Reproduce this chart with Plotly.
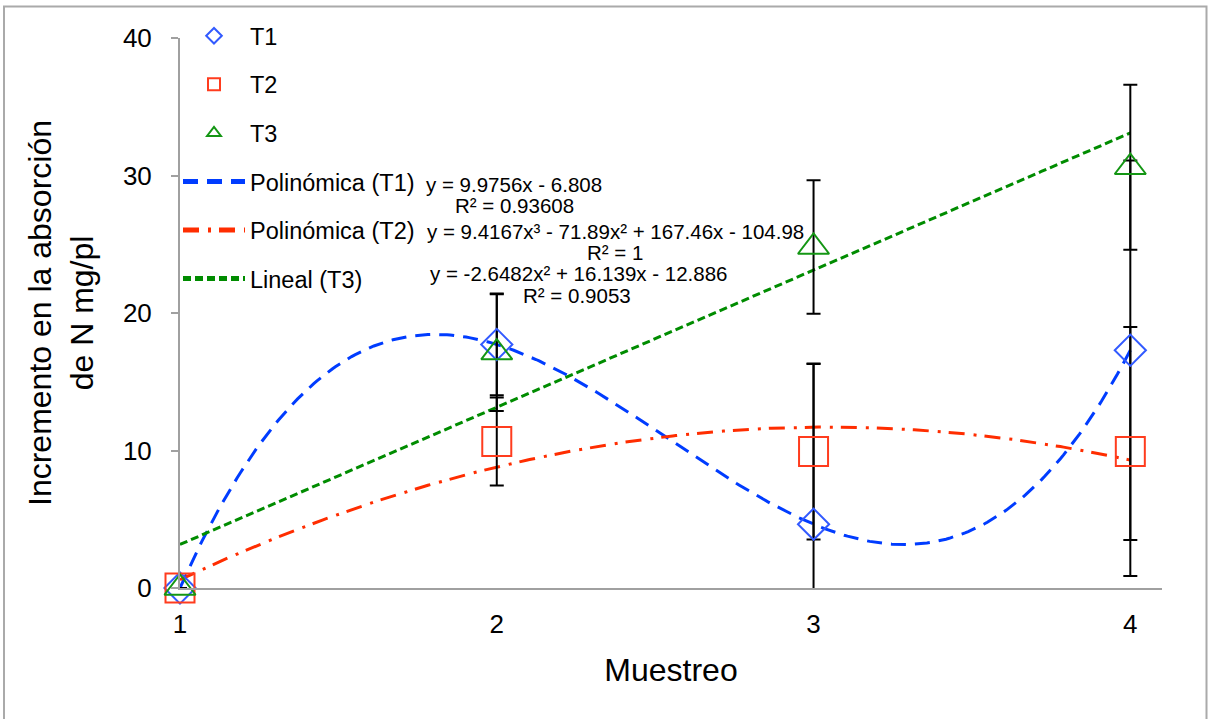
import numpy as np
import plotly.graph_objects as go

# ---------------- data ----------------
muestreo = [1, 2, 3, 4]
x_ticks = [1, 2, 3, 4]
y_ticks = [0, 10, 20, 30, 40]

t1 = [0, 17.71, 4.64, 17.29]
t2 = [0, 10.66, 9.93, 9.93]
t3 = [0, 17.12, 24.8, 30.6]

t1_err = [0, 3.7, 11.65, 13.8]
t2_err = [0, 3.2, 6.4, 9.05]
t3_err = [0, 4.25, 4.85, 6.0]

# trend-line coefficients as printed on the chart (highest power first)
coef_pol_t1 = [9.4167, -71.89, 167.46, -104.98]
coef_pol_t2 = [-2.6482, 16.139, -12.886]
coef_lin_t3 = [9.9756, -6.808]

eq_lines = [
    "y = 9.9756x - 6.808",
    "R² = 0.93608",
    "y = 9.4167x³ - 71.89x² + 167.46x - 104.98",
    "R² = 1",
    "y = -2.6482x² + 16.139x - 12.886",
    "R² = 0.9053",
]

# ---------------- styling ----------------
FONT = "Liberation Sans, Arial, Helvetica, sans-serif"
BLUE_L, RED_L, GREEN_L = "rgb(0,60,255)", "rgb(255,45,0)", "rgb(0,140,0)"
BLUE_M, RED_M, GREEN_M = "rgb(50,90,255)", "rgb(255,60,30)", "rgb(20,150,20)"
AXIS = "rgb(160,160,160)"

W, H = 1208, 719
L, R, T, B = 180, 46, 38, 131
PW, PH = W - L - R, H - T - B


def px2paper(px, py):
    return (px - L) / PW, (H - B - py) / PH


fig = go.Figure()

xs = np.linspace(min(muestreo), max(muestreo), 300)

# trend lines
fig.add_trace(go.Scatter(
    x=xs, y=np.polyval(coef_pol_t1, xs), mode="lines", name="Polinómica (T1)",
    line=dict(color=BLUE_L, width=3, dash="15px,9px"), legendgroup="g4", legendrank=4,
    hoverinfo="skip"))
fig.add_trace(go.Scatter(
    x=xs, y=np.polyval(coef_pol_t2, xs), mode="lines", name="Polinómica (T2)",
    line=dict(color=RED_L, width=3, dash="16px,9px,3px,8px"), legendgroup="g5", legendrank=5,
    hoverinfo="skip"))
fig.add_trace(go.Scatter(
    x=xs, y=np.polyval(coef_lin_t3, xs), mode="lines", name="Lineal (T3)",
    line=dict(color=GREEN_L, width=3, dash="8px,4px"), legendgroup="g6", legendrank=6,
    hoverinfo="skip"))

# error bars (clipped to plot area)
for vals, errs in [(t1, t1_err), (t2, t2_err), (t3, t3_err)]:
    fig.add_trace(go.Scatter(
        x=muestreo, y=vals, mode="markers", marker=dict(size=1, opacity=0),
        error_y=dict(type="data", array=errs, visible=True, color="black",
                     thickness=2, width=7),
        showlegend=False, hoverinfo="skip", cliponaxis=True))

# markers
fig.add_trace(go.Scatter(
    x=muestreo, y=t1, mode="markers", name="T1", legendgroup="g1", legendrank=1,
    marker=dict(symbol="diamond-open", size=24, color=BLUE_M, line=dict(width=2, color=BLUE_M)),
    cliponaxis=False))
fig.add_trace(go.Scatter(
    x=muestreo, y=t2, mode="markers", name="T2", legendgroup="g2", legendrank=2,
    marker=dict(symbol="square-open", size=29, color=RED_M, line=dict(width=2, color=RED_M)),
    cliponaxis=False))
fig.add_trace(go.Scatter(
    x=muestreo, y=t3, mode="markers", name="T3", legendgroup="g3", legendrank=3,
    marker=dict(symbol="triangle-up-open", size=27, color=GREEN_M, line=dict(width=2, color=GREEN_M)),
    cliponaxis=False))

# equation annotations (centre pixel positions)
eq_pos = [(514, 184), (514, 206), (615, 231), (615, 253), (578, 273), (577, 295)]
annotations = []
for txt, (px, py) in zip(eq_lines, eq_pos):
    ax, ay = px2paper(px, py)
    annotations.append(dict(x=ax, y=ay, xref="paper", yref="paper", text=txt,
                            showarrow=False, xanchor="center", yanchor="middle",
                            font=dict(family=FONT, size=20.5, color="black")))

# outer chart border
bx0, by0 = px2paper(4, 725)
bx1, by1 = px2paper(1206.5, 6.5)
shapes = [dict(type="rect", xref="paper", yref="paper", x0=bx0, y0=by0, x1=bx1, y1=by1,
               line=dict(color="rgb(170,170,170)", width=2), fillcolor="rgba(0,0,0,0)",
               layer="below")]

lx, ly = px2paper(178, 14)

fig.update_layout(
    width=W, height=H,
    margin=dict(l=L, r=R, t=T, b=B, autoexpand=False),
    paper_bgcolor="white", plot_bgcolor="white",
    font=dict(family=FONT, color="black"),
    showlegend=True,
    legend=dict(x=lx, y=ly, xanchor="left", yanchor="top", bgcolor="rgba(0,0,0,0)",
                font=dict(family=FONT, size=23.5, color="black"),
                itemwidth=62, itemsizing="constant", tracegroupgap=15,
                borderwidth=0),
    xaxis=dict(range=[1, 4.1], tickvals=x_ticks, ticktext=[str(v) for v in x_ticks],
               showline=True, linecolor=AXIS, linewidth=2, ticks="",
               showgrid=False, zeroline=False, tickfont=dict(size=26),
               ticklabelstandoff=12,
               title=dict(text="Muestreo", font=dict(size=32), standoff=20)),
    yaxis=dict(range=[0, 40], tickvals=y_ticks, ticktext=[str(v) for v in y_ticks],
               showline=True, linecolor=AXIS, linewidth=2, ticks="outside",
               ticklen=7, tickwidth=2, tickcolor=AXIS,
               showgrid=False, zeroline=False, tickfont=dict(size=26),
               ticklabelstandoff=14,
               title=dict(text="Incremento en la absorción<br>de N mg/pl",
                          font=dict(size=32), standoff=20)),
    annotations=annotations,
    shapes=shapes,
)

fig.write_html("out.html")
